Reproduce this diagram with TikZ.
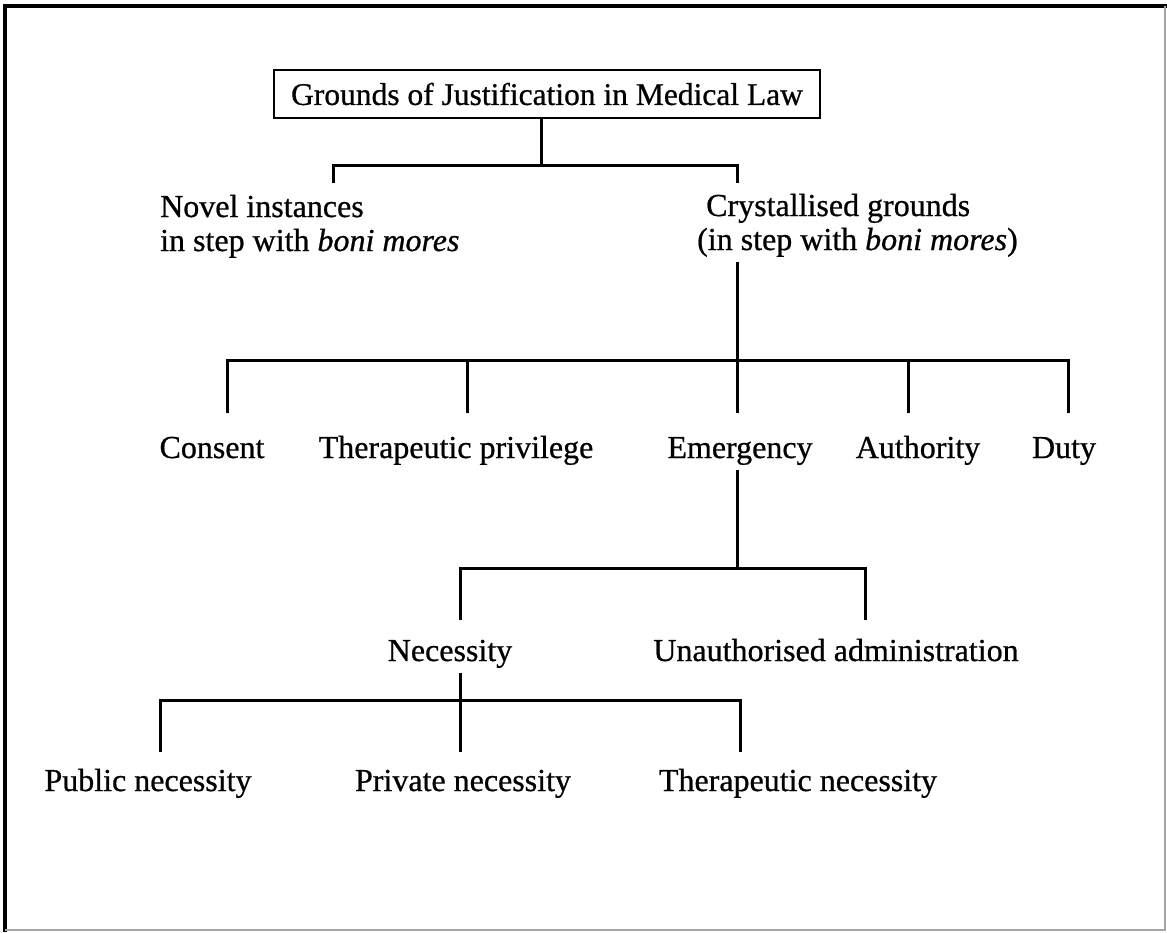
\documentclass[tikz,border=0pt]{standalone}
\usepackage{fontspec}
\setmainfont{Liberation Serif}[FakeBold=0.7]
\begin{document}
\begin{tikzpicture}[x=1pt,y=-1pt,
  lbl/.style={font=\fontsize{32}{35}\selectfont, inner xsep=0pt, inner ysep=5pt},
  titlebox/.style={draw, line width=2.5pt, font=\fontsize{31.5}{35}\selectfont,
    minimum width=546pt, minimum height=48pt, inner sep=0pt},
  wire/.style={line width=3pt}]
\useasboundingbox (0,0) rectangle (1167,932);
\fill[white] (0,0) rectangle (1167,932);
% outer frame: heavy on top and left, faint on right and bottom
\draw[line width=4pt] (5,932) -- (5,6) -- (1167,6);
\draw[black!35, line width=1.5pt] (1165,6) -- (1165,930) -- (5,930);

% title
\node[titlebox] (title) at (547,94) {Grounds of Justification in Medical Law};

% first level
\node[lbl, anchor=base west] (novel1) at (160,217) {Novel instances};
\node[lbl, anchor=base west] (novel2) at (160,251) {in step with \textit{boni mores}};
\node[lbl, anchor=base west] (cryst1) at (706,216) {Crystallised grounds};
\node[lbl, anchor=base west] (cryst2) at (697,250) {(in step with \textit{boni mores})};

% second level
\node[lbl, anchor=base] (consent) at (212,458) {Consent};
\node[lbl, anchor=base] (thpriv) at (456,458) {Therapeutic privilege};
\node[lbl, anchor=base] (emerg) at (740,458) {Emergency};
\node[lbl, anchor=base] (auth) at (918,458) {Authority};
\node[lbl, anchor=base] (duty) at (1064,458) {Duty};

% third level
\node[lbl, anchor=base] (necess) at (450,661) {Necessity};
\node[lbl, anchor=base] (unauth) at (836,661) {Unauthorised administration};

% fourth level
\node[lbl, anchor=base] (pubnec) at (148,791) {Public necessity};
\node[lbl, anchor=base] (privnec) at (463,791) {Private necessity};
\node[lbl, anchor=base] (thernec) at (798,791) {Therapeutic necessity};

% junctions and tick ends
\coordinate (j1) at (541,165);
\coordinate (novel-in) at (333,183);
\coordinate (cryst-in) at (737,183);

\coordinate (j2) at (737,360);
\coordinate (consent-in) at (227,413);
\coordinate (thpriv-in) at (467,413);
\coordinate (emerg-in) at (737,413);
\coordinate (auth-in) at (908,413);
\coordinate (duty-in) at (1068,413);

\coordinate (j3) at (737,568);
\coordinate (necess-in) at (460,620);
\coordinate (unauth-in) at (865,620);

\coordinate (j4) at (460,700);
\coordinate (pubnec-in) at (160,752);
\coordinate (privnec-in) at (460,752);
\coordinate (thernec-in) at (740,752);

% connectors
\draw[wire] (title.south -| j1) -- (j1);
\draw[wire] (novel-in) |- (j1) -| (cryst-in);

\draw[wire] (cryst2.south -| j2) -- (emerg-in);
\draw[wire] (consent-in) |- (j2) -| (duty-in);
\draw[wire] (thpriv-in) -- (thpriv-in |- j2);
\draw[wire] (auth-in) -- (auth-in |- j2);

\draw[wire] (emerg.south -| j3) -- (j3);
\draw[wire] (necess-in) |- (j3) -| (unauth-in);

\draw[wire] (necess.south -| j4) -- (privnec-in);
\draw[wire] (pubnec-in) |- (j4) -| (thernec-in);
\end{tikzpicture}
\end{document}
